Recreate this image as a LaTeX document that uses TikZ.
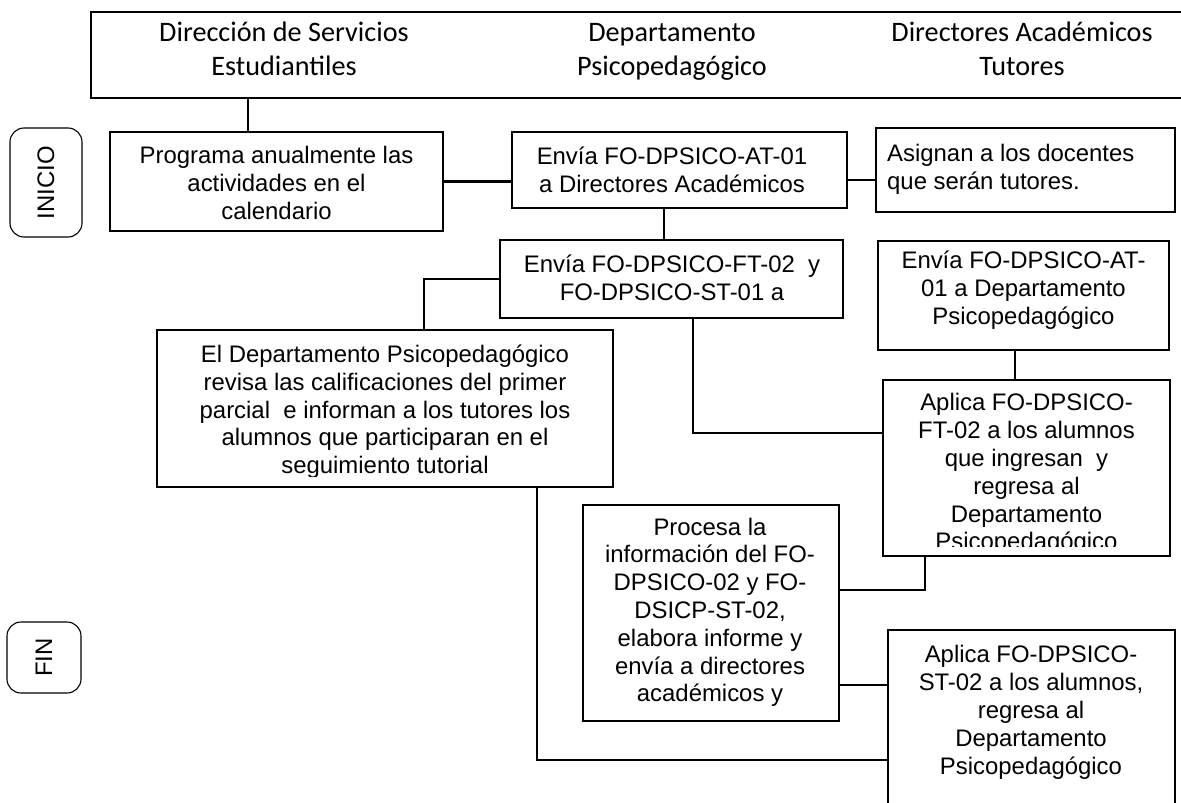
\documentclass[tikz,border=0pt]{standalone}
\usepackage{fontspec}
\setmainfont{Liberation Sans}
\newfontfamily\hdrfont{Carlito}
\begin{document}
\begin{tikzpicture}[x=1pt,y=-1pt,
  box/.style={draw, line width=1.1pt, rectangle, inner sep=0pt, outer sep=0pt},
  term/.style={draw, line width=1.1pt, rectangle, rounded corners=14pt, inner sep=0pt, outer sep=0pt, font=\fontsize{23.9pt}{27.8pt}\selectfont},
  txt/.style={font=\fontsize{23.9pt}{27.8pt}\selectfont, align=center, inner sep=0pt, execute at begin node=\strut, execute at end node=\strut},
  hdrtxt/.style={font=\hdrfont\fontsize{28.2pt}{34pt}\selectfont, align=center, inner sep=0pt, execute at begin node={\rule{0pt}{28pt}}, execute at end node={\rule[-10pt]{0pt}{10pt}}},
  conn/.style={line width=1.7pt},
  thickconn/.style={line width=2.4pt}]
\clip (0,0) rectangle (1181,803);
% header
\node[box, line width=1.8pt, minimum width=1104pt, minimum height=86pt] (hdr) at (643,55) {};
\node[hdrtxt] (h1) at (284,54) {Dirección de Servicios\\Estudiantiles};
\node[hdrtxt] (h2) at (672,54) {Departamento\\Psicopedagógico};
\node[hdrtxt] (h3) at (1022,54) {Directores Académicos\\Tutores};
% terminators
\node[term, rotate=90, minimum width=109pt, minimum height=72pt] (inicio) at (46,182.5) {INICIO};
\node[term, rotate=90, minimum width=71pt, minimum height=74pt] (fin) at (44,657.5) {FIN};
% boxes
\node[box, minimum width=333pt, minimum height=99pt] (prog) at (276.5,181.5) {};
\node[box, minimum width=335pt, minimum height=76pt] (envia) at (679.5,170) {};
\node[box, minimum width=299pt, minimum height=84pt] (asig) at (1025.5,170) {};
\node[box, minimum width=343pt, minimum height=78pt] (ft02) at (671.5,279) {};
\node[box, minimum width=291pt, minimum height=109pt] (at01b) at (1023.5,295.5) {};
\node[box, minimum width=456pt, minimum height=157pt] (depto) at (385,408.5) {};
\node[box, minimum width=287pt, minimum height=176pt] (aplft) at (1026.5,468) {};
\node[box, minimum width=256pt, minimum height=216pt] (proc) at (711,613) {};
\node[box, minimum width=287pt, minimum height=210pt] (st02) at (1031.5,735) {};
% texts
\node[txt] (tprog) at (276.5,187) {Programa anualmente las\\actividades en el\\calendario};
\node[txt] (tenvia) at (672,173.5) {Envía FO-DPSICO-AT-01\\a Directores Académicos};
\node[txt, align=left, anchor=west] (tasig) at (887,171) {Asignan a los docentes\\que serán tutores.};
\node[txt] (tft02) at (672,281.5) {Envía FO-DPSICO-FT-02\ \ y\\FO-DPSICO-ST-01 a};
\node[txt] (tat01b) at (1023.5,292) {Envía FO-DPSICO-AT-\\01 a Departamento\\Psicopedagógico};
\begin{scope}
\clip (157,330) rectangle (613,476);
\node[txt] (tdepto) at (385,413.5) {El Departamento Psicopedagógico\\revisa las calificaciones del primer\\parcial\ \ e informan a los tutores los\\alumnos que participaran en el\\seguimiento tutorial};
\end{scope}
\begin{scope}
\clip (883,380) rectangle (1170,546);
\node[txt] (taplft) at (1026.5,476) {Aplica FO-DPSICO-\\FT-02 a los alumnos\\que ingresan\ \ y\\regresa al\\Departamento\\Psicopedagógico};
\end{scope}
\node[txt] (tproc) at (710,614) {Procesa la\\información del FO-\\DPSICO-02 y FO-\\DSICP-ST-02,\\elabora informe y\\envía a directores\\académicos y};
\node[txt] (tst02) at (1031,714) {Aplica FO-DPSICO-\\ST-02 a los alumnos,\\regresa al\\Departamento\\Psicopedagógico};
% helper coordinates
\coordinate (xa) at (248,0);
\coordinate (xb) at (664,0);
\coordinate (k1) at (424,0);
\coordinate (k2) at (349,0);
\coordinate (k3) at (693,433);
\coordinate (k4) at (1015,0);
\coordinate (k5) at (1013,0);
\coordinate (k6) at (925,590);
\coordinate (k7) at (0,685);
\coordinate (k8) at (185,0);
\coordinate (k9) at (537,760);
\coordinate (e3) at ([yshift=-10pt]envia.east);
% connectors
\draw[conn] (hdr.south -| xa) -- (prog.north -| xa);
\draw[thickconn] (prog.east) -- (prog.east -| envia.west);
\draw[conn] (e3) -- (e3 -| asig.west);
\draw[conn] (envia.south -| xb) -- (ft02.north -| xb);
\draw[conn] (ft02.west) -- (ft02.west -| k1) -- (depto.north -| k1) -- (depto.north -| k2);
\draw[conn] (ft02.south -| k3) -- (k3) -- (k3 -| aplft.west);
\draw[conn] (at01b.south -| k4) -- (aplft.north -| k4);
\draw[conn] (aplft.south -| k5) -- (aplft.south -| k6) -- (k6) -- (k6 -| proc.east);
\draw[conn] (proc.east |- k7) -- (st02.west |- k7);
\draw[conn] (depto.south -| k8) -- (depto.south -| k9) -- (k9) -- (k9 -| st02.west);
\end{tikzpicture}
\end{document}
